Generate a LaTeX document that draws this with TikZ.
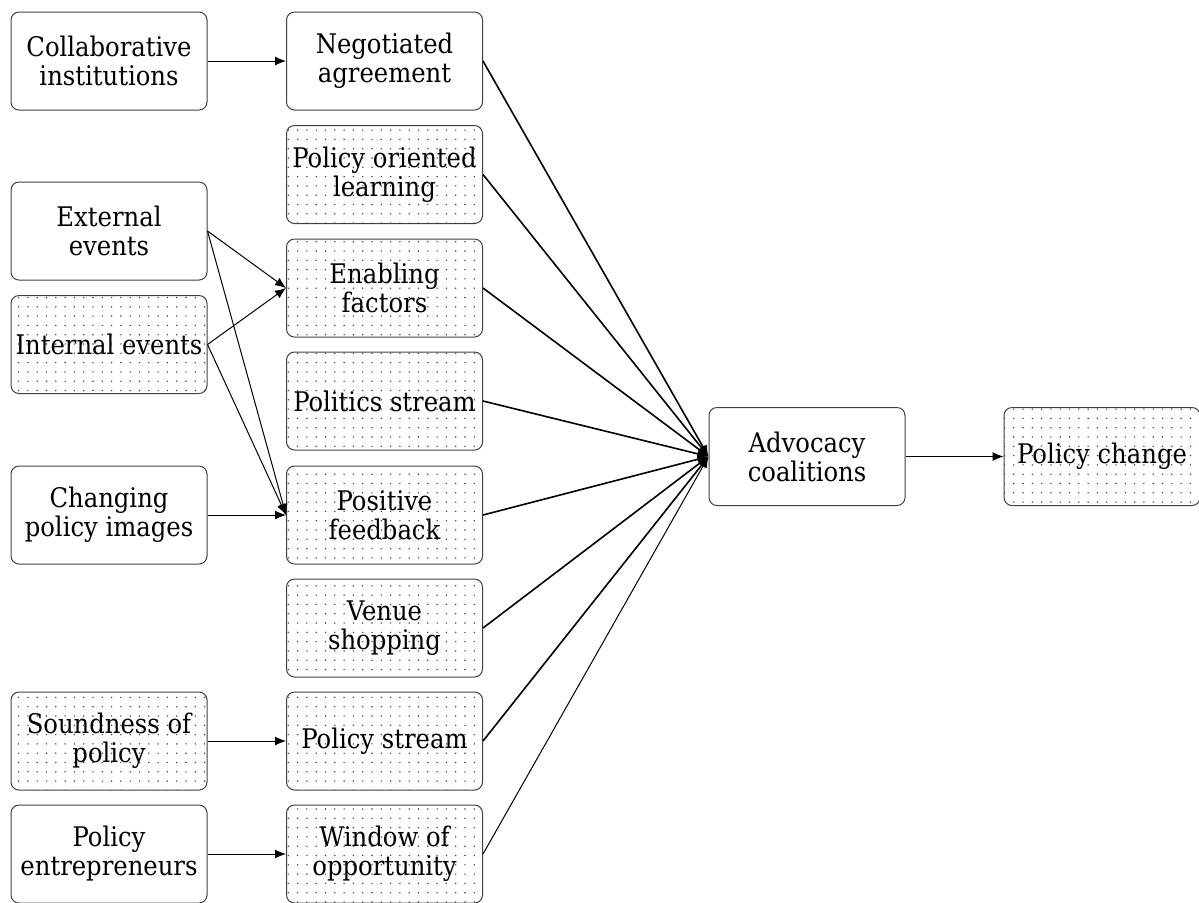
\documentclass[tikz,border=0pt]{standalone}
\usepackage{fontspec}
\setmainfont{DejaVu Serif Condensed}
\usetikzlibrary{arrows.meta, patterns}

% sparse dot fill for the shaded boxes
\pgfdeclarepatternformonly{sparsedots}{\pgfqpoint{-1pt}{-1pt}}{\pgfqpoint{1pt}{1pt}}{\pgfqpoint{4.65pt}{4.65pt}}%
  {\pgfpathcircle{\pgfqpoint{0pt}{0pt}}{0.4pt}\pgfusepath{fill}}

\tikzset{
  box/.style={draw=black!75, line width=0.5pt, rounded corners=4pt,
    minimum width=98pt, minimum height=49pt, inner sep=1pt, align=center,
    font=\fontsize{13.5}{14.5}\selectfont},
  dotbox/.style={box, pattern=sparsedots, pattern color=black!75},
  link/.style={-{Latex[length=5.5pt,width=4.5pt]}, line width=0.5pt},
  feed/.style={link, line width=0.8pt},
}

\begin{document}
\begin{tikzpicture}[x=0.5pt, y=-0.5pt]
        \useasboundingbox (0,0) rectangle (1199,902);

        % Left column
        \node[box]    (collab)  at (109,61)    {Collaborative\\institutions};
        \node[box]    (extern)  at (109,231)   {External\\events};
        \node[dotbox] (intern)  at (109,344.5) {Internal events};
        \node[box]    (images)  at (109,515)   {Changing\\policy images};
        \node[dotbox] (sound)   at (109,741)   {Soundness of\\policy};
        \node[box]    (entrep)  at (109,854)   {Policy\\entrepreneurs};

        % Middle column
        \node[box]    (negot)   at (384.5,61)    {Negotiated\\agreement};
        \node[dotbox] (learn)   at (384.5,174.5) {Policy oriented\\learning};
        \node[dotbox] (enable)  at (384.5,288)   {Enabling\\factors};
        \node[dotbox] (politics) at (384.5,401)  {Politics stream};
        \node[dotbox] (positive) at (384.5,515)  {Positive\\feedback};
        \node[dotbox] (venue)   at (384.5,628)   {Venue\\shopping};
        \node[dotbox] (pstream) at (384.5,741)   {Policy stream};
        \node[dotbox] (window)  at (384.5,854)   {Window of\\opportunity};

        % Right side
        \node[box]    (advocacy) at (807,456.5)  {Advocacy\\coalitions};
        \node[dotbox] (change)   at (1102,456.5) {Policy change};

        % Left to middle
        \draw[link] (collab.east) -- (negot.west);
        \draw[link] (extern.east) -- (enable.west);
        \draw[link] (intern.east) -- (enable.west);
        \draw[link] (extern.east) -- (positive.west);
        \draw[link] (intern.east) -- (positive.west);
        \draw[link] (images.east) -- (positive.west);
        \draw[link] (sound.east) -- (pstream.west);
        \draw[link] (entrep.east) -- (window.west);

        % Middle to advocacy coalitions
        \foreach \src in {negot, learn, enable, politics, positive, venue, pstream}
            \draw[feed] (\src.east) -- (advocacy.west);
        \draw[link] (window.east) -- (advocacy.west);

        \draw[link] (advocacy.east) -- (change.west);
\end{tikzpicture}
\end{document}
